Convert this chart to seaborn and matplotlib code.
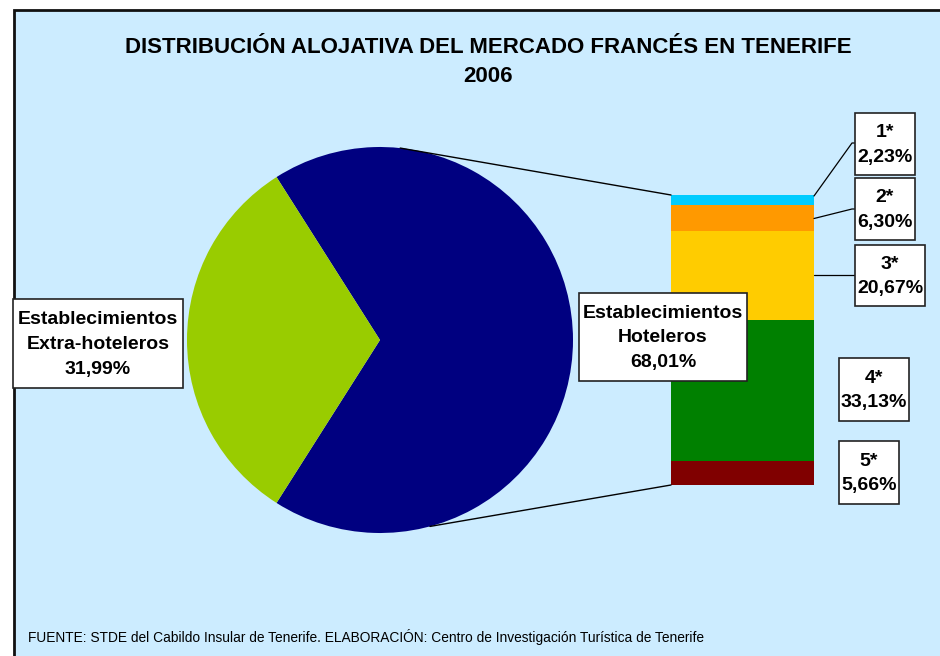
import numpy as np
import matplotlib
matplotlib.use("Agg")
import matplotlib.pyplot as plt
import seaborn as sns
from matplotlib.patches import Rectangle

# datos
pie_labels = ["Establecimientos\nHoteleros", "Establecimientos\nExtra-hoteleros"]
pie_values = [68.01, 31.99]
pie_colors = ["#000080", "#99CC00"]

cat_labels = ["1*", "2*", "3*", "4*", "5*"]
cat_values = [2.23, 6.30, 20.67, 33.13, 5.66]
cat_colors = ["#00CCFF", "#FF9900", "#FFCC00", "#008000", "#800000"]

titulo = "DISTRIBUCIÓN ALOJATIVA DEL MERCADO FRANCÉS EN TENERIFE\n2006"
fuente = ("FUENTE: STDE del Cabildo Insular de Tenerife. ELABORACIÓN: "
          "Centro de Investigación Turística de Tenerife")

def pct(v):
    return "{:.2f}%".format(v).replace(".", ",")

sns.set_theme(style="white", rc={"text.color": "black"})
plt.rcParams['font.family'] = ['Liberation Sans', 'DejaVu Sans']

fig = plt.figure(figsize=(9.4, 6.56), dpi=100)
ax = fig.add_axes([0, 0, 1, 1])

# fondo
ax.add_patch(Rectangle((14, 10), 940, 660, facecolor="#CCECFF",
                       edgecolor="#111111", linewidth=2, zorder=0))

# tarta
cx, cy, r = 380, 340, 193
green_share = pie_values[1] / sum(pie_values)
start = 180 + 360 * green_share / 2
ax.pie(pie_values, colors=pie_colors, startangle=start, center=(cx, cy),
       radius=r, frame=True, wedgeprops=dict(linewidth=0))

# barra apilada
bar_x, bar_w, bar_top, bar_h = 742.5, 143, 195, 290
scale = bar_h / sum(cat_values)
heights = np.array(cat_values) * scale
bottoms = bar_top + np.concatenate([[0], np.cumsum(heights)[:-1]])
ax.bar(bar_x, heights, width=bar_w, bottom=bottoms, color=cat_colors,
       linewidth=0, zorder=2)

# líneas de conexión
bl = bar_x - bar_w / 2
a1, a2 = np.radians(84), np.radians(-75)
ax.plot([cx + r * np.cos(a1), bl], [cy - r * np.sin(a1), bar_top],
        color="black", lw=1, zorder=3)
ax.plot([cx + r * np.cos(a2), bl], [cy - r * np.sin(a2), bar_top + bar_h],
        color="black", lw=1, zorder=3)

# título
ax.text(488, 62, titulo, ha="center", va="center", fontsize=16,
        fontweight="bold", linespacing=1.5, color="black")

def caja(x0, y0, x1, y1, txt, size=14):
    ax.add_patch(Rectangle((x0, y0), x1 - x0, y1 - y0, facecolor="white",
                           edgecolor="#222222", linewidth=1.2, zorder=4))
    ax.text((x0 + x1) / 2, (y0 + y1) / 2 + 1, txt, ha="center", va="center",
            fontsize=size, fontweight="bold", linespacing=1.6, zorder=5,
            color="black")

caja(13, 299, 183, 388, pie_labels[1] + "\n" + pct(pie_values[1]))
caja(579, 293, 747, 381, pie_labels[0] + "\n" + pct(pie_values[0]))

boxes = [(855, 113, 915, 175), (855, 178, 915, 240), (855, 245, 925, 306),
         (839, 358, 909, 421), (839, 441, 899, 504)]
for (x0, y0, x1, y1), lab, v in zip(boxes, cat_labels, cat_values):
    caja(x0, y0, x1, y1, lab + "\n" + pct(v))

br = bar_x + bar_w / 2
ax.plot([br, 852, 855], [bottoms[0] + 1, 143, 143], color="black", lw=0.9, zorder=3)
ax.plot([br, 852, 855], [bottoms[1] + 14, 209, 209], color="black", lw=0.9, zorder=3)
ax.plot([br, 855], [275, 275], color="black", lw=0.9, zorder=3)

# fuente
ax.text(28, 637, fuente, ha="left", va="center", fontsize=9.9, color="black")

ax.set_xlim(0, 940)
ax.set_ylim(656, 0)
ax.set_aspect("equal")
ax.axis("off")

fig.savefig("out.png", dpi=100, facecolor="white")
